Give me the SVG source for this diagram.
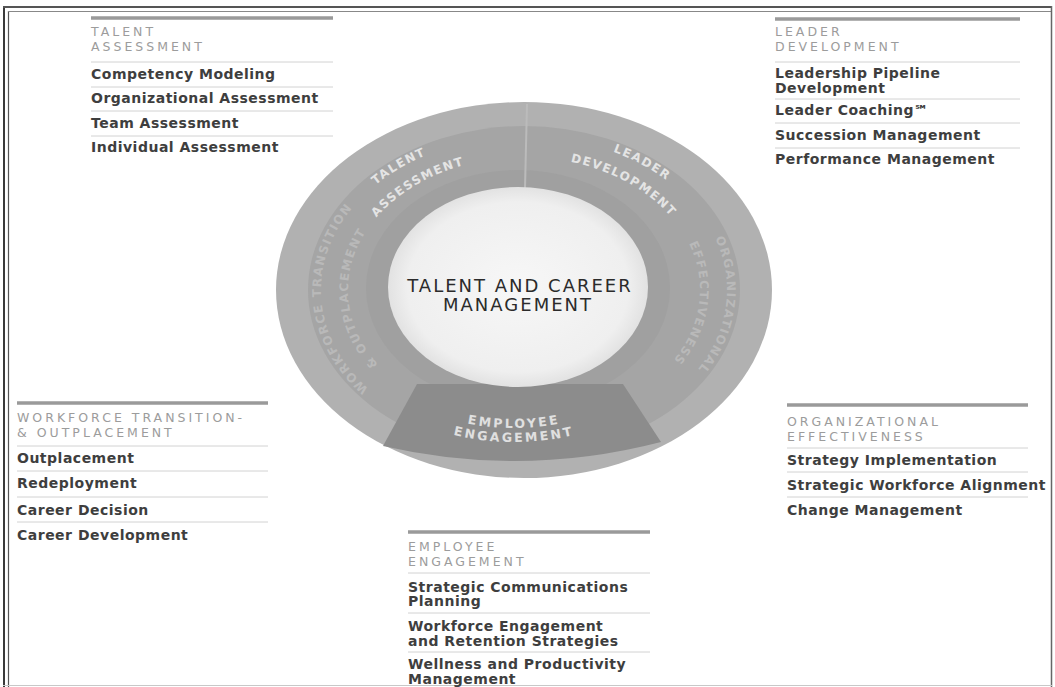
<svg xmlns="http://www.w3.org/2000/svg" width="1055" height="687" viewBox="0 0 1055 687">
<style>
.hdr{font-family:"DejaVu Sans",sans-serif;font-size:12.5px;letter-spacing:3px;fill:#9c9c9c}
.itm{font-family:"DejaVu Sans",sans-serif;font-size:14px;font-weight:bold;letter-spacing:0.5px;fill:#3e3e3e}
.top{stroke:#9a9a9a;stroke-width:3.5}
.div{stroke:#d2d2d2;stroke-width:1}
.ring{font-family:"DejaVu Sans",sans-serif;font-size:12px;font-weight:bold;letter-spacing:1.5px;fill:#e4e4e4;text-anchor:middle}
.ringb{font-family:"DejaVu Sans",sans-serif;font-size:12.5px;font-weight:bold;letter-spacing:2.5px;fill:#e0e0e0;text-anchor:middle}
.ringf{font-family:"DejaVu Sans",sans-serif;font-size:12px;font-weight:bold;letter-spacing:1.5px;fill:#b9b9b9;text-anchor:middle}
.ctr{font-family:"DejaVu Sans",sans-serif;font-size:18px;letter-spacing:2px;fill:#2b2b2b;text-anchor:middle}
</style>
<defs>
<radialGradient id="wg" cx="50%" cy="50%" r="50%">
<stop offset="0" stop-color="#f7f7f7"/><stop offset="0.85" stop-color="#efefef"/><stop offset="1" stop-color="#e2e2e2"/>
</radialGradient>
<path id="p1" d="M524,444 A203,154 0 1 1 524,136 A203,154 0 1 1 524,444"/>
<path id="p2" d="M524,423 A176,133 0 1 1 524,157 A176,133 0 1 1 524,423"/>
<path id="b1" d="M333,290 A181,138 0 0 0 695,290"/>
<path id="b2" d="M314,290 A200,152 0 0 0 714,290"/>
</defs>
<rect width="1055" height="687" fill="#ffffff"/>
<g id="frame" fill="none">
<line x1="4" y1="7" x2="4" y2="687" stroke="#3a3a3a" stroke-width="2"/>
<line x1="8.5" y1="11" x2="8.5" y2="687" stroke="#555" stroke-width="1.2"/>
<line x1="3" y1="7" x2="1052" y2="7" stroke="#555" stroke-width="2"/>
<line x1="8" y1="11.5" x2="1051" y2="11.5" stroke="#888" stroke-width="1"/>
<line x1="1051.5" y1="6" x2="1051.5" y2="687" stroke="#666" stroke-width="1.5"/>
<line x1="3" y1="685.5" x2="1052" y2="685.5" stroke="#c8c8c8" stroke-width="1"/>
</g>
<g id="wheel">
<ellipse cx="524" cy="290" rx="248" ry="188" fill="#b1b1b1"/>
<ellipse cx="524" cy="290" rx="216" ry="164" fill="#a5a5a5"/>
<ellipse cx="518" cy="288" rx="152" ry="118" fill="#a0a0a0"/>
<path d="M417,384 L383,446 Q522,478 661,442 L623,384 Z" fill="#8c8c8c"/>
<line x1="527" y1="104" x2="525" y2="188" stroke="#bbbbbb" stroke-width="2"/>
<ellipse cx="518" cy="287" rx="130" ry="100" fill="url(#wg)"/>
<text class="ring"><textPath href="#p1" startOffset="38.5%">TALENT</textPath></text>
<text class="ring"><textPath href="#p2" startOffset="38.5%">ASSESSMENT</textPath></text>
<text class="ring"><textPath href="#p1" startOffset="60.8%">LEADER</textPath></text>
<text class="ring"><textPath href="#p2" startOffset="60.8%">DEVELOPMENT</textPath></text>
<text class="ringf"><textPath href="#p1" startOffset="24%">WORKFORCE TRANSITION</textPath></text>
<text class="ringf"><textPath href="#p2" startOffset="24%">&amp; OUTPLACEMENT</textPath></text>
<text class="ringf"><textPath href="#p1" startOffset="76.5%">ORGANIZATIONAL</textPath></text>
<text class="ringf"><textPath href="#p2" startOffset="76.5%">EFFECTIVENESS</textPath></text>
<text class="ringb"><textPath href="#b1" startOffset="50%">EMPLOYEE</textPath></text>
<text class="ringb"><textPath href="#b2" startOffset="50%">ENGAGEMENT</textPath></text>
<text class="ctr" x="520" y="291.5">TALENT AND CAREER</text>
<text class="ctr" x="518" y="310.5">MANAGEMENT</text>
</g>
<g id="talent-assessment">
<line class="top" x1="91" y1="18" x2="333" y2="18"/>
<text class="hdr" x="91" y="36">TALENT</text>
<text class="hdr" x="91" y="51">ASSESSMENT</text>
<line class="div" x1="91" y1="62" x2="333" y2="62"/>
<text class="itm" x="91" y="79">Competency Modeling</text>
<line class="div" x1="91" y1="87" x2="333" y2="87"/>
<text class="itm" x="91" y="103">Organizational Assessment</text>
<line class="div" x1="91" y1="111" x2="333" y2="111"/>
<text class="itm" x="91" y="128">Team Assessment</text>
<line class="div" x1="91" y1="136" x2="333" y2="136"/>
<text class="itm" x="91" y="152">Individual Assessment</text>
</g>
<g id="leader-development">
<line class="top" x1="775" y1="19" x2="1020" y2="19"/>
<text class="hdr" x="775" y="36">LEADER</text>
<text class="hdr" x="775" y="51">DEVELOPMENT</text>
<line class="div" x1="775" y1="62" x2="1020" y2="62"/>
<text class="itm" x="775" y="78">Leadership Pipeline</text>
<text class="itm" x="775" y="93">Development</text>
<line class="div" x1="775" y1="99" x2="1020" y2="99"/>
<text class="itm" x="775" y="115">Leader Coaching℠</text>
<line class="div" x1="775" y1="123" x2="1020" y2="123"/>
<text class="itm" x="775" y="140">Succession Management</text>
<line class="div" x1="775" y1="148" x2="1020" y2="148"/>
<text class="itm" x="775" y="164">Performance Management</text>
</g>
<g id="workforce-transition">
<line class="top" x1="17" y1="403" x2="268" y2="403"/>
<text class="hdr" x="17" y="422">WORKFORCE TRANSITION-</text>
<text class="hdr" x="17" y="437">&amp; OUTPLACEMENT</text>
<line class="div" x1="17" y1="446" x2="268" y2="446"/>
<text class="itm" x="17" y="463">Outplacement</text>
<line class="div" x1="17" y1="471" x2="268" y2="471"/>
<text class="itm" x="17" y="488">Redeployment</text>
<line class="div" x1="17" y1="497" x2="268" y2="497"/>
<text class="itm" x="17" y="515">Career Decision</text>
<line class="div" x1="17" y1="522" x2="268" y2="522"/>
<text class="itm" x="17" y="540">Career Development</text>
</g>
<g id="organizational-effectiveness">
<line class="top" x1="787" y1="405" x2="1028" y2="405"/>
<text class="hdr" x="787" y="426">ORGANIZATIONAL</text>
<text class="hdr" x="787" y="441">EFFECTIVENESS</text>
<line class="div" x1="787" y1="448" x2="1028" y2="448"/>
<text class="itm" x="787" y="465">Strategy Implementation</text>
<line class="div" x1="787" y1="472" x2="1028" y2="472"/>
<text class="itm" x="787" y="490">Strategic Workforce Alignment</text>
<line class="div" x1="787" y1="497" x2="1028" y2="497"/>
<text class="itm" x="787" y="515">Change Management</text>
</g>
<g id="employee-engagement">
<line class="top" x1="408" y1="532" x2="650" y2="532"/>
<text class="hdr" x="408" y="551">EMPLOYEE</text>
<text class="hdr" x="408" y="566">ENGAGEMENT</text>
<line class="div" x1="408" y1="573" x2="650" y2="573"/>
<text class="itm" x="408" y="592">Strategic Communications</text>
<text class="itm" x="408" y="606">Planning</text>
<line class="div" x1="408" y1="613" x2="650" y2="613"/>
<text class="itm" x="408" y="631">Workforce Engagement</text>
<text class="itm" x="408" y="646">and Retention Strategies</text>
<line class="div" x1="408" y1="652" x2="650" y2="652"/>
<text class="itm" x="408" y="669">Wellness and Productivity</text>
<text class="itm" x="408" y="684">Management</text>
</g>
<g id="connectors"></g>
</svg>
